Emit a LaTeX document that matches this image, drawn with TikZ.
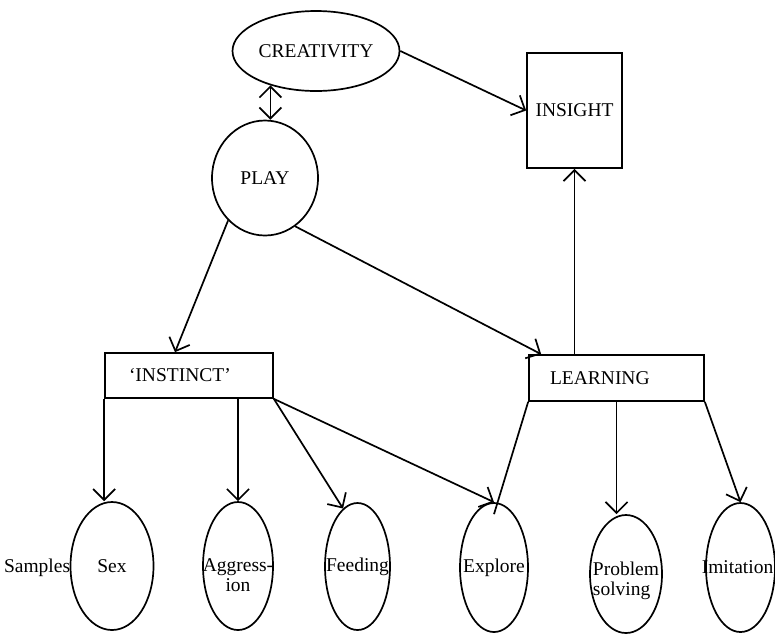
\documentclass[tikz,border=0pt]{standalone}
\usepackage{fontspec}
\setmainfont{Liberation Serif}
\usetikzlibrary{shapes.geometric,arrows.meta}

\tikzset{
  oval/.style={draw, ellipse, inner sep=0pt},
  boxnode/.style={draw, rectangle, inner ysep=0pt, align=left},
  arr/.style={-{Straight Barb[length=11pt,width=22pt]}},
  dbl/.style={{Straight Barb[length=11pt,width=22pt]}-{Straight Barb[length=11pt,width=22pt]}},
}

\begin{document}
\begin{tikzpicture}[x=1pt, y=-1pt, line width=1.7pt, font=\fontsize{19.5}{20}\selectfont]
  % Page frame, in pixels of the original scan
  \useasboundingbox (0,0) rectangle (775,633);

  % Upper level: creativity, play and insight
  \node[oval, minimum width=167, minimum height=80, label=center:CREATIVITY] (creat) at (316,51) {};
  \node[oval, minimum width=106, minimum height=115, label=center:PLAY] (play) at (265,178) {};
  \node[draw, minimum width=95, minimum height=115, inner sep=0pt] (insight) at (574.5,110.5) {INSIGHT};

  % Middle level: the two sources of behaviour
  \node[boxnode, minimum height=45, text width=120, inner xsep=24pt] (instinct) at (189,375.5) {`INSTINCT'};
  \node[boxnode, minimum height=46, text width=133, inner xsep=21pt] (learning) at (616.5,378) {LEARNING};

  % Lower level: sample behaviours
  \node[anchor=east, inner sep=0pt] (samples) at (71,568) {Samples};
  \node[oval, minimum width=83, minimum height=128, label=center:Sex] (sex) at (112,566) {};
  \node[oval, minimum width=70, minimum height=128,
        label={[align=center, yshift=-9pt]center:Aggress-\\ion}] (aggr) at (238,566) {};
  \node[oval, minimum width=65, minimum height=127, label=center:Feeding] (feed) at (357.5,566.5) {};
  \node[oval, minimum width=68, minimum height=129, label=center:Explore] (explore) at (494,567.5) {};
  \node[oval, minimum width=72, minimum height=118,
        label={[align=left, yshift=-7pt]center:Problem\\solving}] (prob) at (626,574) {};
  \node[oval, minimum width=69, minimum height=129, label={[xshift=-3pt]center:Imitation}] (imit) at (740.5,567.5) {};

  % Connections between the levels
  \draw[arr] (creat.east) -- (insight.west);
  \draw[dbl] (creat.217) -- (creat.217 |- play.north);
  \draw[arr] (play.229) -- ([xshift=-14pt]instinct.north);
  \draw[arr] (play.302) -- ([xshift=13pt]learning.north west);
  \draw[arr] (insight.south |- learning.north) -- (insight.south);

  % Instinct branches
  \draw[arr] (instinct.south west) -- (instinct.south west |- sex.north);
  \draw[arr] (instinct.south -| aggr.north) -- (aggr.north);
  \draw[arr] (instinct.south east) -- (feed.104);
  \draw[arr] (instinct.south east) -- (explore.north);

  % Learning branches
  \draw (learning.south west) -- ([yshift=-12pt]explore.north);
  \draw[arr] (learning.south) -- (learning.south |- prob.north);
  \draw[arr] (learning.south east) -- (imit.north);

\end{tikzpicture}
\end{document}
